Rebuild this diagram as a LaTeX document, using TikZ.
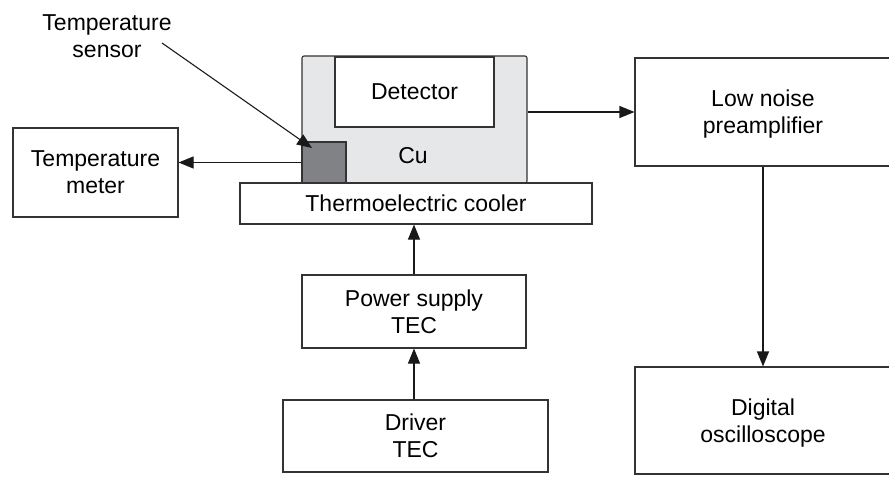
\documentclass[tikz,border=0pt]{standalone}
\usepackage{fontspec}
\setmainfont{Liberation Sans}
\usetikzlibrary{arrows.meta}
\definecolor{cufill}{HTML}{E6E7E8}
\definecolor{sensfill}{HTML}{808285}
\definecolor{edge}{HTML}{333333}
\begin{document}
\begin{tikzpicture}[x=1pt,y=-1pt,
  lbl/.style={font=\fontsize{23}{27}\selectfont, align=center, inner sep=0pt},
  blk/.style={lbl, draw=edge, line width=1.1pt, fill=white, text depth=0pt},
  arr/.style={draw=black!90, line width=1.1pt, -{Triangle[length=15pt,width=12pt]}}]
\useasboundingbox (0,0) rectangle (889,484);
% Cu block with detector and sensor
\node[blk, fill=cufill, rounded corners=2pt, minimum width=225pt, minimum height=127pt] (cu) at (414.5,119.5) {};
\node[blk, minimum width=159pt, minimum height=70pt] (det) at (414.5,92) {Detector};
\node[blk, fill=sensfill, minimum width=44pt, minimum height=41pt] (sensor) at (324,162.5) {};
\node[lbl] (culbl) at (413,156) {Cu};
\node[blk, minimum width=352pt, minimum height=41pt] (tec) at (416,203.5) {Thermoelectric cooler};
% left
\node[blk, minimum width=165pt, minimum height=89pt] (tmeter) at (95.5,172.5) {Temperature\\meter};
\node[lbl] (senslbl) at (107,36) {Temperature\\sensor};
\coordinate (s0) at (162,43);
\coordinate (s1) at (312,148);
% centre column
\node[blk, minimum width=224pt, minimum height=73pt] (psu) at (414,311.5) {Power supply\\TEC};
\node[blk, minimum width=265pt, minimum height=72pt] (drv) at (415.5,436) {Driver\\TEC};
% right column
\node[blk, minimum width=256pt, minimum height=108pt] (lna) at (763,112) {Low noise\\preamplifier};
\node[blk, minimum width=256pt, minimum height=107pt] (osc) at (763,420.5) {Digital\\oscilloscope};
% connectors
\draw[arr] (s0) -- (s1);
\draw[arr] (sensor.west) -- (sensor.west -| tmeter.east);
\draw[arr] (cu.east |- lna.west) -- (lna.west);
\draw[arr] (lna.south) -- (osc.north);
\draw[arr] (psu.north) -- (psu.north |- tec.south);
\draw[arr] (psu.south |- drv.north) -- (psu.south);
\end{tikzpicture}
\end{document}
